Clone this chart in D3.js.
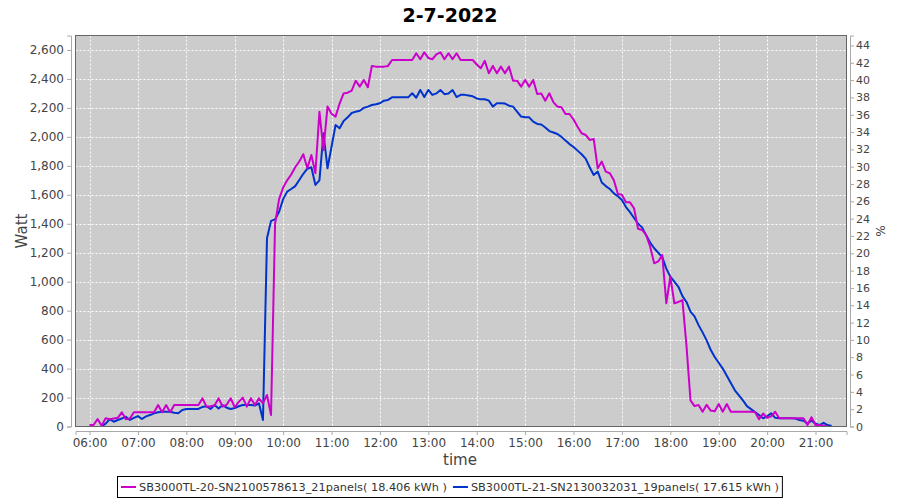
<!DOCTYPE html>
<html><head><meta charset="utf-8">
<script src="https://cdn.jsdelivr.net/npm/d3@7"></script>
<style>body{margin:0;background:#fff} svg{display:block;font-family:"DejaVu Sans",sans-serif}</style>
</head><body><svg id="chart" width="900" height="500"></svg>
<script>
const title = "2-7-2022";
const startHour = 6, stepMinutes = 5;
const seriesNames = ["SB3000TL-20-SN2100578613_21panels( 18.406 kWh )", "SB3000TL-21-SN2130032031_19panels( 17.615 kWh )"];
const magentaValues = [
  10,10,52,5,57,50,55,60,98,50,55,98,
  98,98,98,98,98,148,98,148,98,148,148,148,
  148,148,148,148,195,137,140,145,195,137,150,195,
  133,170,199,137,195,148,195,160,218,79,1400,1570,
  1650,1700,1740,1790,1830,1880,1783,1875,1749,2174,1909,2209,
  2160,2140,2230,2300,2305,2320,2388,2347,2393,2343,2490,2485,
  2485,2485,2490,2531,2531,2531,2531,2531,2531,2577,2536,2584,
  2545,2536,2570,2584,2536,2577,2536,2577,2531,2531,2531,2531,
  2500,2474,2525,2439,2490,2439,2485,2439,2485,2388,2388,2347,
  2393,2347,2393,2296,2300,2250,2301,2240,2209,2205,2158,2158,
  2120,2070,2025,2013,1979,1986,1783,1829,1760,1749,1700,1606,
  1600,1548,1548,1507,1365,1357,1323,1242,1127,1140,1184,851,
  1034,851,860,873,560,180,141,148,102,150,110,105,
  155,102,155,102,102,102,102,102,102,100,50,90,
  60,70,102,57,57,57,57,57,57,57,10,64,
  10,10,5,0,null
];
const blueValues = [
  null,null,null,0,20,50,33,45,55,68,45,60,
  72,52,70,79,91,98,102,102,102,95,91,114,
  121,121,121,121,135,140,121,148,125,148,130,121,
  128,140,148,148,148,145,160,45,1300,1420,1430,1483,
  1570,1622,1640,1660,1702,1745,1780,1790,1668,1700,2025,1783,
  1932,2082,2059,2110,2135,2165,2174,2180,2200,2209,2220,2225,
  2232,2250,2255,2273,2273,2273,2273,2273,2301,2270,2324,2275,
  2324,2290,2300,2324,2295,2300,2324,2275,2290,2290,2285,2280,
  2265,2259,2260,2250,2209,2232,2232,2230,2215,2209,2175,2140,
  2135,2135,2105,2089,2085,2065,2040,2030,2020,2000,1975,1950,
  1930,1905,1880,1850,1790,1737,1760,1685,1660,1640,1610,1590,
  1564,1515,1480,1440,1400,1375,1320,1270,1231,1200,1170,1090,
  1035,1000,965,900,860,793,760,700,650,595,530,480,
  440,400,350,300,250,215,180,141,120,100,79,57,
  70,91,60,57,57,57,57,55,45,40,22,40,
  20,10,25,10,3
];
const xTickLabels = ["06:00","07:00","08:00","09:00","10:00","11:00","12:00","13:00","14:00","15:00","16:00","17:00","18:00","19:00","20:00","21:00"];
const leftTicks = [0,200,400,600,800,1000,1200,1400,1600,1800,2000,2200,2400,2600];
const rightTicks = [0,2,4,6,8,10,12,14,16,18,20,22,24,26,28,30,32,34,36,38,40,42,44];
const colors = ["#cc00cc", "#0033cc"];

const svg = d3.select("#chart");
const P = {left: 75.5, right: 846.5, top: 35.5, bottom: 426.5};
const day = (h, m, s) => new Date(2022, 6, 2, h, m, s || 0);
const x = d3.scaleTime().domain([day(5, 42, 36), day(21, 38, 24)]).range([P.left, P.right]);
const y = d3.scaleLinear().domain([0, 2700]).range([P.bottom, P.top]);
const y2 = d3.scaleLinear().domain([0, 45.15]).range([P.bottom, P.top]);
const times = magentaValues.map((_, i) => day(startHour, i * stepMinutes));
const xTickDates = xTickLabels.map(s => day(+s.slice(0, 2), +s.slice(3)));

// title
svg.append("text").attr("x", 450).attr("y", 22).attr("text-anchor", "middle")
  .attr("font-size", 19).attr("font-weight", "bold").attr("fill", "#000").text(title);

// plot background
svg.append("rect").attr("x", P.left).attr("y", P.top).attr("width", P.right - P.left).attr("height", P.bottom - P.top)
  .attr("fill", "#cccccc");

// grid
const grid = svg.append("g").attr("stroke", "#ffffff").attr("stroke-width", 1).attr("stroke-dasharray", "2,2");
grid.selectAll(".gx").data(xTickDates).join("line")
  .attr("x1", d => Math.round(x(d)) + 0.5).attr("x2", d => Math.round(x(d)) + 0.5)
  .attr("y1", P.top).attr("y2", P.bottom);
grid.selectAll(".gy").data(leftTicks.slice(1)).join("line")
  .attr("y1", d => Math.round(y(d)) + 0.5).attr("y2", d => Math.round(y(d)) + 0.5)
  .attr("x1", P.left).attr("x2", P.right);

// lines
const series = [magentaValues, blueValues];
svg.append("clipPath").attr("id", "clip").append("rect")
  .attr("x", P.left).attr("y", P.top).attr("width", P.right - P.left).attr("height", P.bottom - P.top);
const lineG = svg.append("g").attr("clip-path", "url(#clip)");
[1, 0].forEach(k => {
  const data = series[k].map((v, i) => ({t: times[i], v}));
  const line = d3.line().defined(d => d.v !== null).x(d => x(d.t)).y(d => y(d.v));
  lineG.append("path").datum(data).attr("d", line).attr("fill", "none")
    .attr("stroke", colors[k]).attr("stroke-width", 2).attr("stroke-linejoin", "round");
});

// plot border
svg.append("rect").attr("x", P.left).attr("y", P.top).attr("width", P.right - P.left).attr("height", P.bottom - P.top)
  .attr("fill", "none").attr("stroke", "#666").attr("stroke-width", 1);

// axes
const axisColor = "#aaaaaa", labelColor = "#444444";
function styleAxis(g, fs) {
  g.select(".domain").attr("stroke", axisColor);
  g.selectAll(".tick line").attr("stroke", axisColor);
  g.selectAll(".tick text").attr("fill", labelColor).attr("font-size", fs).attr("font-family", "DejaVu Sans");
}
const xAxis = d3.axisBottom(x).tickValues(xTickDates).tickFormat((d, i) => xTickLabels[i]).tickSizeOuter(0).tickSize(4).tickPadding(3);
svg.append("g").attr("transform", "translate(0,431)").call(xAxis).call(g => styleAxis(g, 12));

const yAxis = d3.axisLeft(y).tickValues(leftTicks).tickFormat(d3.format(",")).tickSizeOuter(0).tickSize(4).tickPadding(3);
svg.append("g").attr("transform", "translate(71,0)").call(yAxis).call(g => styleAxis(g, 12));

const y2Axis = d3.axisRight(y2).tickValues(rightTicks).tickFormat(d3.format("d")).tickSizeOuter(0).tickSize(4).tickPadding(2);
svg.append("g").attr("transform", "translate(850,0)").call(y2Axis).call(g => styleAxis(g, 11));

// axis labels
svg.append("text").attr("x", 460).attr("y", 465).attr("text-anchor", "middle").attr("font-size", 15)
  .attr("fill", labelColor).text("time");
svg.append("text").attr("transform", "translate(27,231) rotate(-90)").attr("text-anchor", "middle")
  .attr("font-size", 15).attr("fill", labelColor).text("Watt");
svg.append("text").attr("transform", "translate(876,231) rotate(90)").attr("text-anchor", "middle")
  .attr("font-size", 12).attr("fill", labelColor).text("%");

// legend
const leg = svg.append("g");
const legRect = leg.append("rect").attr("fill", "#fff").attr("stroke", "#000").attr("stroke-width", 1);
let cx = 0;
seriesNames.forEach((name, k) => {
  const g = leg.append("g").attr("transform", `translate(${cx},0)`);
  g.append("line").attr("x1", 0).attr("x2", 15).attr("y1", 0).attr("y2", 0)
    .attr("stroke", colors[k]).attr("stroke-width", 2);
  const t = g.append("text").attr("x", 18).attr("y", 4).attr("font-size", 11.3).attr("fill", "#333").text(name);
  const w = 18 + t.node().getComputedTextLength();
  cx += w + 6;
});
const totalW = cx - 6;
const lx = Math.round(450 - totalW / 2);
leg.attr("transform", `translate(${lx},487)`);
legRect.attr("x", -3.5).attr("y", -10.5).attr("width", totalW + 7).attr("height", 21);
</script></body></html>
